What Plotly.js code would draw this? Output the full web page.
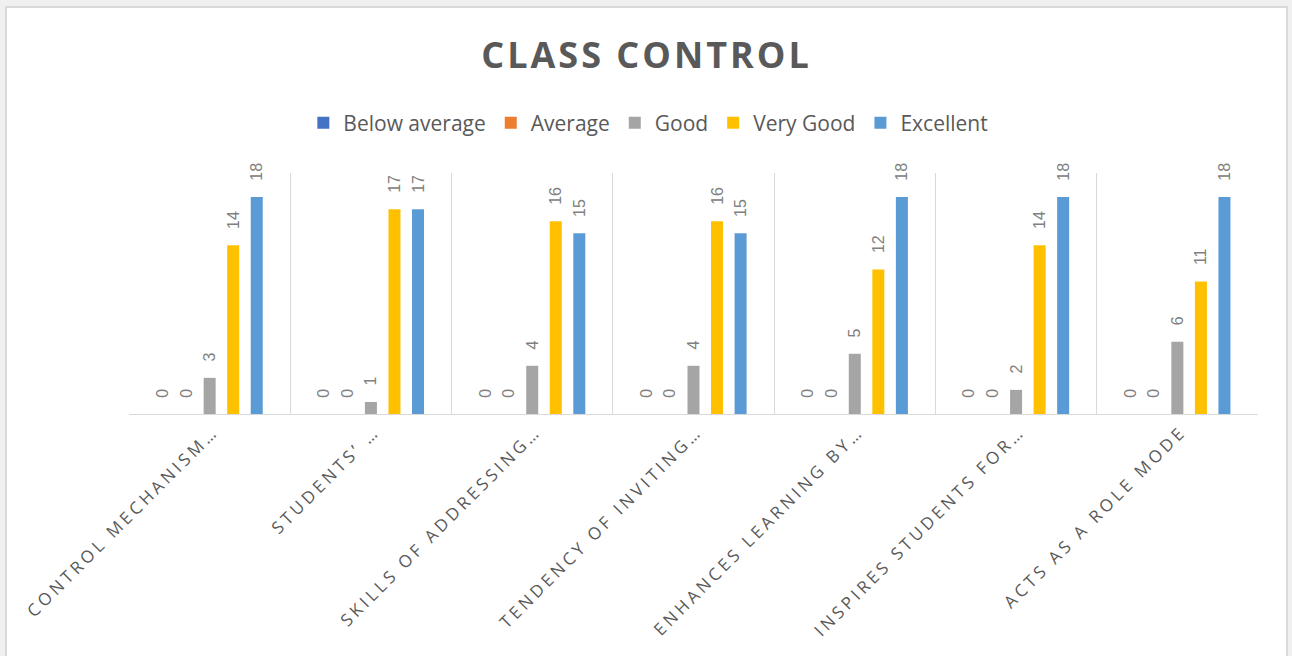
<!DOCTYPE html>
<html>
<head>
<meta charset="utf-8">
<script src="https://cdn.plot.ly/plotly-3.0.1.min.js"></script>
<style>
  html, body { margin: 0; padding: 0; background: #f0f0f0; overflow: hidden; }
  #frame { position: absolute; left: 5px; top: 6px; width: 1279px; height: 700px; background: #fff; border: 2px solid #d9d9d9; }
  #chart { position: absolute; left: 0; top: 0; width: 1279px; height: 648px; }
  .xaxislayer-above text { letter-spacing: 3.6px !important; }
  .gtitle { letter-spacing: 3px !important; }
</style>
</head>
<body>
<div id="frame"><div id="chart"></div></div>
<script>
const categories = [
  "CONTROL MECHANISM\u2026",
  "STUDENTS\u2019 \u2026",
  "SKILLS OF ADDRESSING\u2026",
  "TENDENCY OF INVITING\u2026",
  "ENHANCES LEARNING BY\u2026",
  "INSPIRES STUDENTS FOR\u2026",
  "ACTS AS A ROLE MODE"
];
const seriesNames = ["Below average", "Average", "Good", "Very Good", "Excellent"];
const belowAverage = [0, 0, 0, 0, 0, 0, 0];
const average      = [0, 0, 0, 0, 0, 0, 0];
const good         = [3, 1, 4, 4, 5, 2, 6];
const veryGood     = [14, 17, 16, 16, 12, 14, 11];
const excellent    = [18, 17, 15, 15, 18, 18, 18];
const colors = ["#4472C4", "#ED7D31", "#A5A5A5", "#FFC000", "#5B9BD5"];

const seriesValues = [belowAverage, average, good, veryGood, excellent];
const traces = seriesValues.map((vals, i) => ({
  type: "bar",
  name: seriesNames[i],
  x: categories,
  y: vals,
  marker: { color: colors[i] },
  text: vals.map(v => "\u00a0\u00a0\u00a0" + v),
  textposition: "outside",
  textangle: -90,
  constraintext: "none",
  cliponaxis: false,
  textfont: { family: "Liberation Sans, Arial, sans-serif", size: 16, color: "#808080" },
  hoverinfo: "x+y+name"
}));

const layout = {
  width: 1279,
  height: 648,
  margin: { l: 122, r: 28, t: 165, b: 242 },
  paper_bgcolor: "#ffffff",
  plot_bgcolor: "#ffffff",
  barmode: "group",
  bargap: 0.27,
  bargroupgap: 0.49,
  showlegend: true,
  title: {
    text: "<b>CLASS CONTROL</b>",
    font: { family: "Open Sans, sans-serif", size: 36, color: "#595959" },
    x: 0.5, xanchor: "center",
    yref: "container", y: 1 - 47 / 648, yanchor: "middle"
  },
  legend: {
    orientation: "h",
    x: 0.46, xanchor: "center",
    yref: "container", y: 1 - 115 / 648, yanchor: "middle",
    font: { family: "Open Sans, sans-serif", size: 21, color: "#595959" },
    itemwidth: 30,
    traceorder: "normal"
  },
  xaxis: {
    type: "category",
    tickson: "boundaries",
    showgrid: true,
    gridcolor: "#d9d9d9",
    gridwidth: 1,
    showline: true,
    linecolor: "#d9d9d9",
    linewidth: 1,
    ticks: "",
    tickangle: -45,
    ticklabelshift: 4,
    tickfont: { family: "Open Sans, sans-serif", size: 17, color: "#595959" },
    fixedrange: true
  },
  yaxis: {
    range: [0, 20],
    showgrid: false,
    showticklabels: false,
    zeroline: false,
    showline: false,
    ticks: "",
    fixedrange: true
  }
};

Plotly.newPlot("chart", traces, layout, { displayModeBar: false, staticPlot: true });
</script>
</body>
</html>
